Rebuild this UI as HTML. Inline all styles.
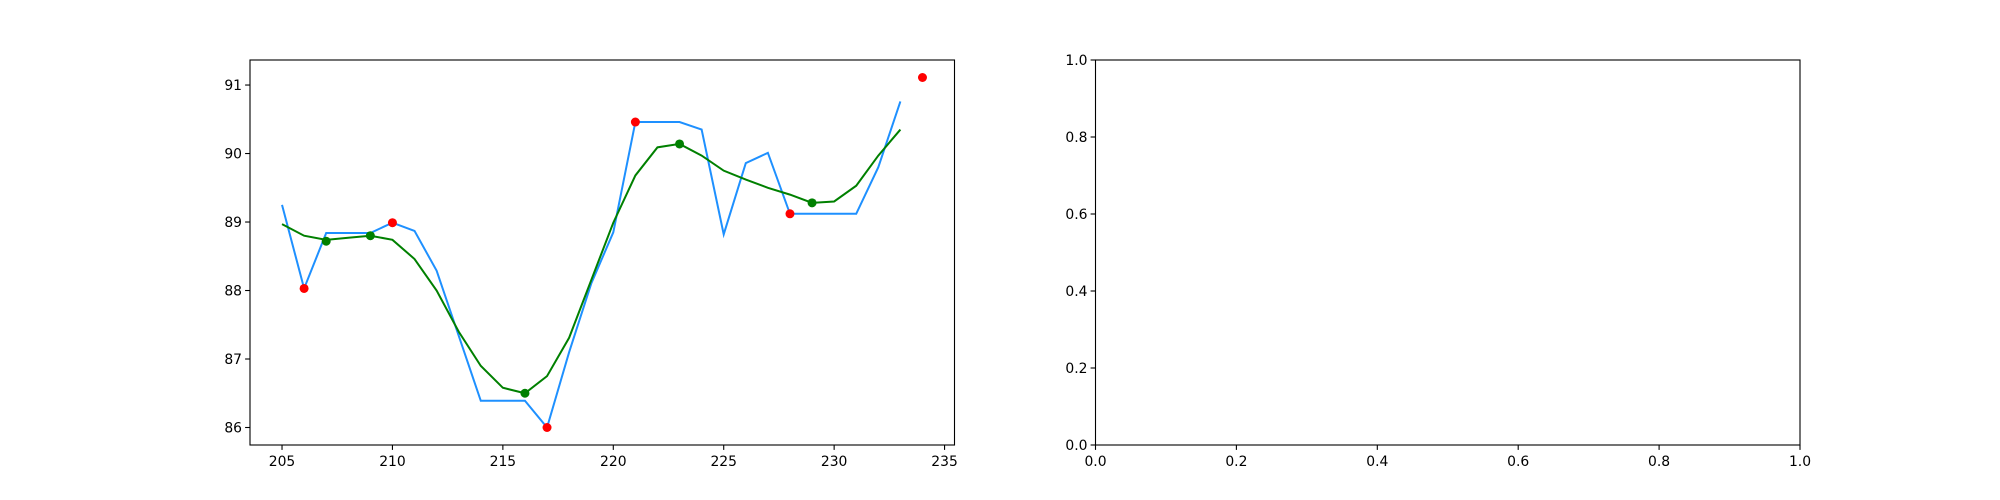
<!DOCTYPE html>
<html><head><meta charset="utf-8"><style>
body{margin:0;background:#fff;}
svg{display:block;font-family:"DejaVu Sans","Liberation Sans",sans-serif;}
</style></head><body>
<svg id="chart" width="2000" height="500" viewBox="0 0 2000 500"></svg>
<script>
const xValues = [205,206,207,208,209,210,211,212,213,214,215,216,217,218,219,220,221,222,223,224,225,226,227,228,229,230,231,232,233];
const priceValues = [89.25,88.03,88.84,88.84,88.84,88.99,88.87,88.29,87.34,86.39,86.39,86.39,86.0,87.1,88.1,88.85,90.46,90.46,90.46,90.35,88.82,89.86,90.01,89.12,89.12,89.12,89.12,89.8,90.76];
const smoothValues = [88.97,88.8,88.74,88.77,88.8,88.74,88.46,88.0,87.4,86.9,86.58,86.5,86.75,87.31,88.15,88.99,89.68,90.09,90.14,89.97,89.75,89.62,89.5,89.4,89.28,89.3,89.53,89.97,90.35];
const redX = [206,210,217,221,228,234];
const redY = [88.03,88.99,86.0,90.46,89.12,91.11];
const greenX = [207,209,216,223,229];
const greenY = [88.72,88.8,86.5,90.14,89.28];
const leftXTicks = [205,210,215,220,225,230,235];
const leftYTicks = [86,87,88,89,90,91];
const rightTicks = [0.0,0.2,0.4,0.6,0.8,1.0];

const svg = document.getElementById('chart');
const NS = 'http://www.w3.org/2000/svg';
function mk(tag, attrs, parent){const e=document.createElementNS(NS,tag);for(const k in attrs)e.setAttribute(k,attrs[k]);(parent||svg).appendChild(e);return e;}

const L={x0:250,x1:954.5,y0:60,y1:445};
const allX=xValues.concat(redX), allY=priceValues.concat(smoothValues,redY,greenY);
let xmin=Math.min(...allX), xmax=Math.max(...allX), ymin=Math.min(...allY), ymax=Math.max(...allY);
const xm=(xmax-xmin)*0.05, ym=(ymax-ymin)*0.05; xmin-=xm; xmax+=xm; ymin-=ym; ymax+=ym;
const sx=v=>L.x0+(v-xmin)/(xmax-xmin)*(L.x1-L.x0);
const sy=v=>L.y1-(v-ymin)/(ymax-ymin)*(L.y1-L.y0);

const gL=mk('g',{});



const blue=mk('polyline',{points:xValues.map((x,i)=>sx(x)+','+sy(priceValues[i])).join(' '),fill:'none',stroke:'#1e90ff','stroke-width':2},gL);


const green=mk('polyline',{points:xValues.map((x,i)=>sx(x)+','+sy(smoothValues[i])).join(' '),fill:'none',stroke:'#008000','stroke-width':2},gL);


redX.forEach((x,i)=>{const c=mk('circle',{cx:sx(x),cy:sy(redY[i]),r:4.5,fill:'#ff0000'},gL);

});
greenX.forEach((x,i)=>{const c=mk('circle',{cx:sx(x),cy:sy(greenY[i]),r:4.5,fill:'#008000'},gL);

});

function frame(A,g){const r=mk('rect',{x:A.x0,y:A.y0,width:A.x1-A.x0,height:A.y1-A.y0,fill:'none',stroke:'#000','stroke-width':1.1},g);

}
frame(L,gL);
function xtick(g,px,label,A){mk('line',{x1:px,x2:px,y1:A.y1,y2:A.y1+4.9,stroke:'#000','stroke-width':1.1},g);
const t=mk('text',{x:px,y:A.y1+21,'text-anchor':'middle','font-size':13.9,fill:'#000'},g);t.textContent=label;

}
function ytick(g,py,label,A){mk('line',{x1:A.x0-4.9,x2:A.x0,y1:py,y2:py,stroke:'#000','stroke-width':1.1},g);
const t=mk('text',{x:A.x0-8,y:py+5,'text-anchor':'end','font-size':13.9,fill:'#000'},g);t.textContent=label;

}
leftXTicks.forEach(v=>xtick(gL,sx(v),String(v),L));
leftYTicks.forEach(v=>ytick(gL,sy(v),String(v),L));

const R={x0:1095.5,x1:1800,y0:60,y1:445};
const gR=mk('g',{});


frame(R,gR);
const rx=v=>R.x0+v*(R.x1-R.x0), ry=v=>R.y1-v*(R.y1-R.y0);
rightTicks.forEach(v=>{xtick(gR,rx(v),v.toFixed(1),R);ytick(gR,ry(v),v.toFixed(1),R);});
</script>
</body></html>
